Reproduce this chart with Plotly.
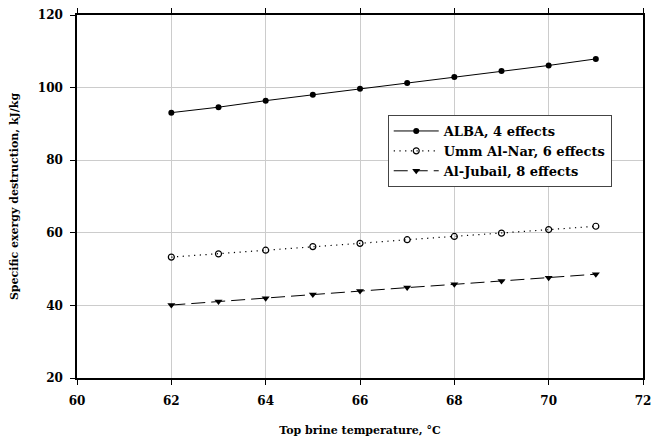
import plotly.graph_objects as go

temps = [62, 63, 64, 65, 66, 67, 68, 69, 70, 71]
alba = [93.1, 94.6, 96.4, 98.0, 99.7, 101.3, 102.9, 104.6, 106.1, 107.9]
umm_al_nar = [53.3, 54.2, 55.2, 56.2, 57.1, 58.1, 59.0, 59.9, 60.9, 61.8]
al_jubail = [40.1, 41.1, 42.0, 43.0, 44.0, 44.9, 45.8, 46.7, 47.6, 48.6]
series_names = ["ALBA, 4 effects", "Umm Al-Nar, 6 effects", "Al-Jubail, 8 effects"]

FONT = "DejaVu Serif"

fig = go.Figure()
fig.add_trace(go.Scatter(x=temps, y=alba, name=series_names[0], mode="lines+markers",
                         line=dict(color="black", width=1, dash="solid"),
                         marker=dict(symbol="circle", size=6, color="black")))
fig.add_trace(go.Scatter(x=temps, y=umm_al_nar, name=series_names[1], mode="lines+markers",
                         line=dict(color="black", width=1.2, dash="1.2px,4.5px"),
                         marker=dict(symbol="circle-open", size=6, color="black", line=dict(width=1.2))))
fig.add_trace(go.Scatter(x=temps, y=al_jubail, name=series_names[2], mode="lines+markers",
                         line=dict(color="black", width=1, dash="14px,6px"),
                         marker=dict(symbol="triangle-down", size=7, color="black")))

axis_common = dict(showgrid=True, gridcolor="#cccccc", gridwidth=1, zeroline=False,
                   ticks="outside", ticklen=5, tickcolor="black", automargin=False,
                   tickfont=dict(family=FONT, size=12, color="black", weight="bold"))

fig.update_xaxes(range=[60, 72], dtick=2, tick0=60,
                 showline=True, linecolor="black", linewidth=1.5, mirror="ticks",
                 ticklabelstandoff=6, ticklabeloverflow="allow",
                 title=dict(text="Top brine temperature, °C",
                            font=dict(family=FONT, size=11, color="black", weight="bold"), standoff=19),
                 **axis_common)
fig.update_yaxes(range=[20, 120], dtick=20, tick0=20,
                 showline=True, linecolor="black", linewidth=1.5, mirror=True,
                 ticklabelstandoff=5,
                 title=dict(text="Specific exergy destruction, kJ/kg",
                            font=dict(family=FONT, size=11, color="black", weight="bold"), standoff=17),
                 **axis_common)

fig.update_layout(
    width=651, height=437,
    margin=dict(l=77, r=8, t=15, b=59, autoexpand=False),
    paper_bgcolor="white", plot_bgcolor="white",
    font=dict(family=FONT, color="black"),
    legend=dict(x=0.549, y=0.7245, xanchor="left", yanchor="top",
                bgcolor="white", bordercolor="#444444", borderwidth=1,
                font=dict(family=FONT, size=13, color="black", weight="bold"),
                tracegroupgap=0, itemwidth=45),
    showlegend=True,
)

fig.write_html("out.html", config={"displayModeBar": False},
               post_script="document.body.style.margin='0';document.body.style.overflow='hidden';")
